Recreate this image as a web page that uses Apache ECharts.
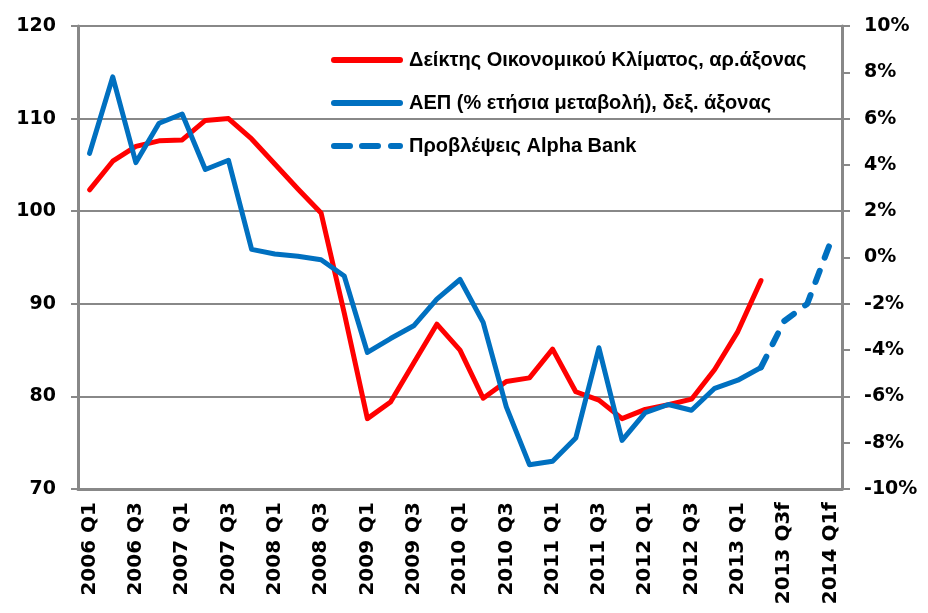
<!DOCTYPE html>
<html>
<head>
<meta charset="utf-8">
<script src="https://cdn.jsdelivr.net/npm/echarts@6/dist/echarts.min.js"></script>
<style>
  html, body { margin: 0; padding: 0; background: #fff; }
  #chart { width: 928px; height: 613px; }
</style>
</head>
<body>
<div id="chart"></div>
<script>
// quarters, last three are forecasts
const categories = [
  '2006 Q1', '2006 Q2', '2006 Q3', '2006 Q4',
  '2007 Q1', '2007 Q2', '2007 Q3', '2007 Q4',
  '2008 Q1', '2008 Q2', '2008 Q3', '2008 Q4',
  '2009 Q1', '2009 Q2', '2009 Q3', '2009 Q4',
  '2010 Q1', '2010 Q2', '2010 Q3', '2010 Q4',
  '2011 Q1', '2011 Q2', '2011 Q3', '2011 Q4',
  '2012 Q1', '2012 Q2', '2012 Q3', '2012 Q4',
  '2013 Q1', '2013 Q2', '2013 Q3f', '2013 Q4f', '2014 Q1f'
];

// Δείκτης Οικονομικού Κλίματος (αριστερός άξονας)
const sentiment = [
  102.3, 105.4, 107.0, 107.6, 107.7, 109.8, 110.0, 107.8,
  105.1, 102.4, 99.8, 89.0, 77.6, 79.4, 83.6, 87.8,
  85.0, 79.8, 81.6, 82.0, 85.1, 80.5, 79.6, 77.6,
  78.6, 79.1, 79.7, 82.9, 87.0, 92.5, null, null, null
];

// ΑΕΠ % ετήσια μεταβολή (δεξιός άξονας)
const gdp = [
  4.5, 7.8, 4.1, 5.8, 6.2, 3.8, 4.2, 0.35,
  0.15, 0.05, -0.1, -0.8, -4.1, -3.5, -2.95, -1.8,
  -0.95, -2.8, -6.45, -8.95, -8.8, -7.8, -3.9, -7.9,
  -6.7, -6.35, -6.6, -5.65, -5.3, -4.75, null, null, null
];

// Προβλέψεις Alpha Bank
const forecast = [
  null, null, null, null, null, null, null, null,
  null, null, null, null, null, null, null, null,
  null, null, null, null, null, null, null, null,
  null, null, null, null, null, -4.75, -2.75, -2.0, 0.65
];

const leftTicks = { min: 70, max: 120, interval: 10 };
const rightTicks = { min: -10, max: 10, interval: 2 };

const names = [
  'Δείκτης Οικονομικού Κλίματος, αρ.άξονας',
  'ΑΕΠ (% ετήσια μεταβολή), δεξ. άξονας',
  'Προβλέψεις Alpha Bank'
];

const axisGray = '#888888';
const labelFont = {
  color: '#000',
  fontFamily: 'DejaVu Sans',
  fontWeight: 'bold',
  fontSize: 19
};

// legend icons: thick bar and a dashed bar
const solidIcon = 'path://M3,0h66a3,3 0 0 1 0,6h-66a3,3 0 0 1 0,-6z';
const dashIcon = 'path://M3,0h16a3,3 0 0 1 0,6h-16a3,3 0 0 1 0,-6z' +
  'M31,0h16a3,3 0 0 1 0,6h-16a3,3 0 0 1 0,-6z' +
  'M60,0h9a3,3 0 0 1 0,6h-9a3,3 0 0 1 0,-6z';

const chart = echarts.init(document.getElementById('chart'));

chart.setOption({
  animation: false,
  grid: { left: 78, right: 86, top: 26, bottom: 124 },
  legend: {
    orient: 'vertical',
    left: 331,
    top: 50,
    padding: 0,
    itemWidth: 72,
    itemHeight: 6,
    itemGap: 23,
    textStyle: {
      color: '#000',
      fontFamily: 'Liberation Sans',
      fontWeight: 'bold',
      fontSize: 20,
      lineHeight: 20,
      padding: [0, 0, 0, 1]
    },
    data: [
      { name: names[0], icon: solidIcon },
      { name: names[1], icon: solidIcon },
      { name: names[2], icon: dashIcon }
    ]
  },
  xAxis: {
    type: 'category',
    data: categories,
    boundaryGap: true,
    axisLine: { onZero: false, lineStyle: { color: axisGray, width: 3 } },
    axisTick: { show: false },
    axisLabel: Object.assign({}, labelFont, {
      fontSize: 20,
      rotate: 90,
      interval: 1,
      margin: 13
    })
  },
  yAxis: [
    {
      type: 'value',
      position: 'left',
      min: leftTicks.min,
      max: leftTicks.max,
      interval: leftTicks.interval,
      axisLine: { show: true, lineStyle: { color: axisGray, width: 3 } },
      axisTick: { show: true, length: 7, lineStyle: { color: axisGray, width: 2 } },
      splitLine: { show: true, lineStyle: { color: axisGray, width: 2 } },
      axisLabel: Object.assign({}, labelFont, { margin: 22 })
    },
    {
      type: 'value',
      position: 'right',
      min: rightTicks.min,
      max: rightTicks.max,
      interval: rightTicks.interval,
      axisLine: { show: true, lineStyle: { color: axisGray, width: 3 } },
      axisTick: { show: true, length: 8, lineStyle: { color: axisGray, width: 2 } },
      splitLine: { show: false },
      axisLabel: Object.assign({}, labelFont, { margin: 22, formatter: '{value}%' })
    }
  ],
  series: [
    {
      name: names[0],
      type: 'line',
      yAxisIndex: 0,
      data: sentiment,
      symbol: 'none',
      z: 3,
      lineStyle: { color: '#FF0000', width: 5, cap: 'round', join: 'round' },
      itemStyle: { color: '#FF0000' }
    },
    {
      name: names[1],
      type: 'line',
      yAxisIndex: 1,
      data: gdp,
      symbol: 'none',
      z: 4,
      lineStyle: { color: '#0070C0', width: 5, cap: 'round', join: 'round' },
      itemStyle: { color: '#0070C0' }
    },
    {
      name: names[2],
      type: 'line',
      yAxisIndex: 1,
      data: forecast,
      symbol: 'none',
      z: 4,
      lineStyle: { color: '#0070C0', width: 6, type: [12, 14], cap: 'round', join: 'round' },
      itemStyle: { color: '#0070C0' }
    }
  ]
});
</script>
</body>
</html>
